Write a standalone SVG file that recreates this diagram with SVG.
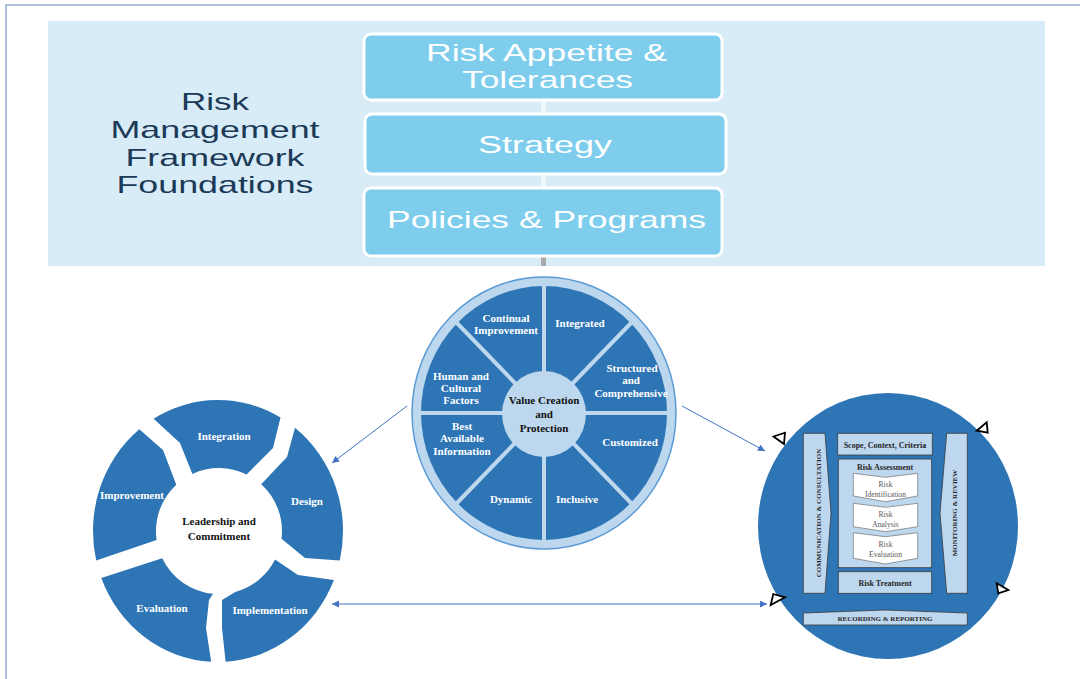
<svg xmlns="http://www.w3.org/2000/svg" width="1080" height="679" viewBox="0 0 1080 679">
<defs>
<style>
.band{fill:#d8ecf7}
.box{fill:#7ecdec;stroke:#ffffff;stroke-width:3}
.bt{font-family:"Liberation Sans",Arial,sans-serif;font-size:24px;fill:#ffffff;text-anchor:middle}
.tt{font-family:"Liberation Sans",Arial,sans-serif;font-size:24px;fill:#1b3a57;text-anchor:middle}
.dk{fill:#2e75b6}
.wl{font-family:"Liberation Serif","Times New Roman",serif;font-weight:bold;font-size:11px;fill:#ffffff;text-anchor:middle}
.cl{font-family:"Liberation Serif","Times New Roman",serif;font-weight:bold;font-size:11px;fill:#111111;text-anchor:middle}
.rb{fill:#bdd7ee;stroke:#3a3a3a;stroke-width:0.8}
.rl{font-family:"Liberation Serif","Times New Roman",serif;font-weight:bold;font-size:8px;fill:#262626;text-anchor:middle}
.rc{font-family:"Liberation Serif","Times New Roman",serif;font-weight:bold;font-size:7px;fill:#262626;text-anchor:middle}
.chev{fill:#ffffff;stroke:#7f7f7f;stroke-width:0.8}
.cv{font-family:"Liberation Serif","Times New Roman",serif;font-size:7.6px;fill:#595959;text-anchor:middle}
.conn{stroke:#4472c4;stroke-width:1;fill:none}
.tri{fill:#ffffff;stroke:#000000;stroke-width:1.8;stroke-linejoin:miter}
</style>
<marker id="ah" viewBox="0 0 10 10" refX="10" refY="5" markerWidth="8" markerHeight="7" markerUnits="userSpaceOnUse" orient="auto-start-reverse">
<path d="M0,0 L10,5 L0,10 z" fill="#4472c4"/>
</marker>
</defs>
<rect x="0" y="0" width="1080" height="679" fill="#ffffff"/>
<rect x="6" y="5" width="1090" height="700" fill="none" stroke="#7d97c2" stroke-width="1.2"/>

<g id="foundations">
<rect class="band" x="48" y="21" width="997" height="245"/>
<rect x="541" y="100" width="5" height="14" fill="#eef7fb"/>
<rect x="541" y="174" width="5" height="14" fill="#eef7fb"/>
<rect x="541" y="256" width="5" height="10" fill="#a9a9a9"/>
</g>

<g id="title">
<text class="tt" x="215" y="110" textLength="68" lengthAdjust="spacingAndGlyphs">Risk</text>
<text class="tt" x="215" y="138" textLength="209" lengthAdjust="spacingAndGlyphs">Management</text>
<text class="tt" x="215" y="166" textLength="179" lengthAdjust="spacingAndGlyphs">Framework</text>
<text class="tt" x="215" y="193" textLength="197" lengthAdjust="spacingAndGlyphs">Foundations</text>
</g>

<g id="appetite">
<rect class="box" x="364" y="34" width="358" height="66" rx="7"/>
<text class="bt" x="546.5" y="61" textLength="241" lengthAdjust="spacingAndGlyphs">Risk Appetite &amp;</text>
<text class="bt" x="547.5" y="88" textLength="171" lengthAdjust="spacingAndGlyphs">Tolerances</text>
</g>

<g id="strategy">
<rect class="box" x="365" y="114" width="361" height="60" rx="7"/>
<text class="bt" x="545" y="153" textLength="134" lengthAdjust="spacingAndGlyphs">Strategy</text>
</g>

<g id="policies">
<rect class="box" x="364" y="188" width="358" height="68" rx="7"/>
<text class="bt" x="546.5" y="228" textLength="319" lengthAdjust="spacingAndGlyphs">Policies &amp; Programs</text>
</g>

<g id="principles">
<ellipse cx="544" cy="413" rx="132" ry="136" fill="#bdd7ee" stroke="#5b9bd5" stroke-width="1.5"/>
<ellipse cx="544" cy="413" rx="123" ry="127" class="dk"/>
<g stroke="#bdd7ee" stroke-width="4">
<line x1="544" y1="284" x2="544" y2="542"/>
<line x1="419" y1="413" x2="669" y2="413"/>
<line x1="456" y1="322" x2="632" y2="504"/>
<line x1="632" y1="322" x2="456" y2="504"/>
</g>
<ellipse cx="544" cy="414" rx="42" ry="43" fill="#bdd7ee"/>
<text class="wl" x="506" y="322">Continual</text>
<text class="wl" x="506" y="334">Improvement</text>
<text class="wl" x="580" y="327">Integrated</text>
<text class="wl" x="632" y="372">Structured</text>
<text class="wl" x="631" y="384">and</text>
<text class="wl" x="631" y="397">Comprehensive</text>
<text class="wl" x="461" y="380">Human and</text>
<text class="wl" x="461" y="392">Cultural</text>
<text class="wl" x="461" y="404">Factors</text>
<text class="wl" x="462" y="430">Best</text>
<text class="wl" x="462" y="442">Available</text>
<text class="wl" x="462" y="455">Information</text>
<text class="wl" x="511" y="503">Dynamic</text>
<text class="wl" x="577" y="503">Inclusive</text>
<text class="wl" x="630" y="446">Customized</text>
<text class="cl" x="544" y="404">Value Creation</text>
<text class="cl" x="544" y="418">and</text>
<text class="cl" x="544" y="432">Protection</text>
</g>

<g id="framework">
<path class="dk" d="M153.6,418.7 A125,131 0 0 1 280.5,417.6 L273,448 L246.6,474.4 A63,63 0 0 0 192.4,473.9 L180,443 Z"/>
<path class="dk" d="M295,427.8 A125,131 0 0 1 339.8,560.5 L305,558 L281.5,538.7 A63,63 0 0 0 261.2,484.2 L287,457 Z"/>
<path class="dk" d="M333.9,580.1 A125,131 0 0 1 225.6,661.8 L222,628 L222,600 L235.3,591.9 A63,63 0 0 0 275.1,559.6 L298,575 Z"/>
<path class="dk" d="M211.2,661.8 A125,131 0 0 1 101.3,577.9 L162.2,558.2 A63,63 0 0 0 213,593.7 L209,600 L206,628 Z"/>
<path class="dk" d="M96.2,560.5 A125,131 0 0 1 139.3,429.2 L163,450 L176.3,484.7 A63,63 0 0 0 156.6,540 Z"/>
<text class="wl" x="224" y="440">Integration</text>
<text class="wl" x="307" y="505">Design</text>
<text class="wl" x="270" y="614">Implementation</text>
<text class="wl" x="162" y="612">Evaluation</text>
<text class="wl" x="132" y="499">Improvement</text>
<text class="cl" x="219" y="525">Leadership and</text>
<text class="cl" x="219" y="540">Commitment</text>
</g>

<g id="process">
<ellipse cx="888" cy="526" rx="130" ry="133" class="dk"/>
<polygon class="rb" points="803.3,433.3 825,433.3 831,513 825,593.3 803.3,593.3"/>
<text class="rc" x="821" y="513" transform="rotate(-90 821 513)">COMMUNICATION &amp; CONSULTATION</text>
<polygon class="rb" points="946.7,433.3 967.3,433.3 967.3,593.3 946.7,593.3 940,513"/>
<text class="rc" x="957" y="513" transform="rotate(-90 957 513)">MONITORING &amp; REVIEW</text>
<rect class="rb" x="837.7" y="433.3" width="94.6" height="21.7"/>
<text class="rl" x="885" y="447.5">Scope, Context, Criteria</text>
<rect class="rb" x="838.3" y="459" width="93.4" height="108.7"/>
<text class="rl" x="885" y="470">Risk Assessment</text>
<polygon class="chev" points="853.3,473.3 885.5,477.3 917.7,473.3 917.7,496 885.5,501.7 853.3,496"/>
<text class="cv" x="885.5" y="487">Risk</text>
<text class="cv" x="885.5" y="497">Identification</text>
<polygon class="chev" points="853.3,503.3 885.5,507.3 917.7,503.3 917.7,526.7 885.5,531.7 853.3,526.7"/>
<text class="cv" x="885.5" y="517">Risk</text>
<text class="cv" x="885.5" y="527">Analysis</text>
<polygon class="chev" points="853.3,532.7 885.5,536.7 917.7,532.7 917.7,558.3 885.5,564 853.3,558.3"/>
<text class="cv" x="885.5" y="547">Risk</text>
<text class="cv" x="885.5" y="557">Evaluation</text>
<rect class="rb" x="838.3" y="571.7" width="93.4" height="21.6"/>
<text class="rl" x="885" y="586">Risk Treatment</text>
<polygon class="rb" points="803.3,613 885,610 967.3,613 967.3,625 803.3,625"/>
<text class="rc" x="885" y="621">RECORDING &amp; REPORTING</text>
</g>

<g id="connectors">
<line class="conn" x1="407" y1="406" x2="332" y2="463" marker-end="url(#ah)"/>
<line class="conn" x1="682" y1="406" x2="765" y2="451" marker-end="url(#ah)"/>
<line class="conn" x1="332" y1="604" x2="767" y2="604" marker-start="url(#ah)" marker-end="url(#ah)"/>
<polygon class="tri" points="773.5,436.5 785,432.7 784,444"/>
<polygon class="tri" points="976.7,430.7 986.7,422.3 987.7,432.7"/>
<polygon class="tri" points="996.7,583.3 1008.3,590 998.3,593.3"/>
<polygon class="tri" points="770.7,605 773.3,594 785,597.3"/>
</g>
</svg>
